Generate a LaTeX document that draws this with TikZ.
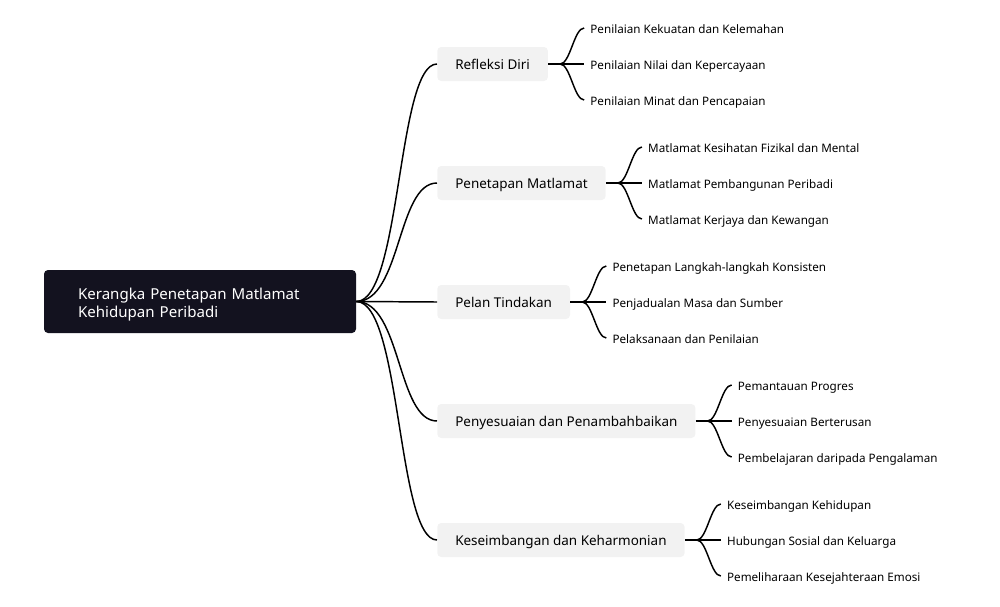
\documentclass[tikz,border=0pt]{standalone}
\usepackage{fontspec}
\setmainfont{Noto Sans}
\usetikzlibrary{positioning}
\definecolor{rootfill}{HTML}{13121F}
\definecolor{branchfill}{HTML}{F2F2F2}

\begin{document}
\begin{tikzpicture}[
		x=0.75pt, y=-0.75pt,
		rootbox/.style={rectangle, rounded corners=3pt, fill=rootfill, text=white, align=left, text width=183pt, inner xsep=25.5pt, minimum height=47.25pt, font=\fontsize{11.3}{14}\selectfont},
		branchbox/.style={rectangle, rounded corners=3pt, fill=branchfill, inner xsep=13.5pt, text height=10.5pt, text depth=2.5pt, minimum height=25.5pt, anchor=west, font=\fontsize{10.1}{12}\selectfont},
		leaf/.style={inner xsep=4.5pt, inner ysep=2pt, text height=9.5pt, text depth=2pt, anchor=west, font=\fontsize{8.75}{10}\selectfont},
		link/.style={line width=1.1pt}
		]
		\useasboundingbox (0,0) rectangle (1000,607);
		
		\node (root) [rootbox] at (200,301.5) {\rule{0pt}{13pt}Kerangka Penetapan Matlamat\\Kehidupan Peribadi};
		
		\node (refl) [branchbox] at (437,64) {Refleksi Diri};
		\node (goal) [branchbox] at (437,183) {Penetapan Matlamat};
		\node (plan) [branchbox] at (437,302) {Pelan Tindakan};
		\node (adj) [branchbox] at (437,421) {Penyesuaian dan Penambahbaikan};
		\node (bal) [branchbox] at (437,540) {Keseimbangan dan Keharmonian};
		
		\draw[link] (root.east) .. controls +(45,0) and +(-40,0) .. (refl.west);
		\draw[link] (root.east) .. controls +(45,0) and +(-40,0) .. (goal.west);
		\draw[link] (root.east) -- (plan.west);
		\draw[link] (root.east) .. controls +(45,0) and +(-40,0) .. (adj.west);
		\draw[link] (root.east) .. controls +(45,0) and +(-40,0) .. (bal.west);
		
		% Refleksi Diri
		\node (refl2) [leaf, right=27pt of refl] {Penilaian Nilai dan Kepercayaan};
		\node (refl1) [leaf] at ([yshift=27pt]refl2.west) {Penilaian Kekuatan dan Kelemahan};
		\node (refl3) [leaf] at ([yshift=-27pt]refl2.west) {Penilaian Minat dan Pencapaian};
		\coordinate (jrefl) at ([xshift=9pt]refl.east);
		\draw[link] (refl.east) -- (jrefl) -- (refl2.west);
		\draw[link] (jrefl) .. controls +(10,0) and +(-10,0) .. (refl1.west);
		\draw[link] (jrefl) .. controls +(10,0) and +(-10,0) .. (refl3.west);
		
		% Penetapan Matlamat
		\node (goal2) [leaf, right=27pt of goal] {Matlamat Pembangunan Peribadi};
		\node (goal1) [leaf] at ([yshift=27pt]goal2.west) {Matlamat Kesihatan Fizikal dan Mental};
		\node (goal3) [leaf] at ([yshift=-27pt]goal2.west) {Matlamat Kerjaya dan Kewangan};
		\coordinate (jgoal) at ([xshift=9pt]goal.east);
		\draw[link] (goal.east) -- (jgoal) -- (goal2.west);
		\draw[link] (jgoal) .. controls +(10,0) and +(-10,0) .. (goal1.west);
		\draw[link] (jgoal) .. controls +(10,0) and +(-10,0) .. (goal3.west);
		
		% Pelan Tindakan
		\node (plan2) [leaf, right=27pt of plan] {Penjadualan Masa dan Sumber};
		\node (plan1) [leaf] at ([yshift=27pt]plan2.west) {Penetapan Langkah-langkah Konsisten};
		\node (plan3) [leaf] at ([yshift=-27pt]plan2.west) {Pelaksanaan dan Penilaian};
		\coordinate (jplan) at ([xshift=9pt]plan.east);
		\draw[link] (plan.east) -- (jplan) -- (plan2.west);
		\draw[link] (jplan) .. controls +(10,0) and +(-10,0) .. (plan1.west);
		\draw[link] (jplan) .. controls +(10,0) and +(-10,0) .. (plan3.west);
		
		% Penyesuaian dan Penambahbaikan
		\node (adj2) [leaf, right=27pt of adj] {Penyesuaian Berterusan};
		\node (adj1) [leaf] at ([yshift=27pt]adj2.west) {Pemantauan Progres};
		\node (adj3) [leaf] at ([yshift=-27pt]adj2.west) {Pembelajaran daripada Pengalaman};
		\coordinate (jadj) at ([xshift=9pt]adj.east);
		\draw[link] (adj.east) -- (jadj) -- (adj2.west);
		\draw[link] (jadj) .. controls +(10,0) and +(-10,0) .. (adj1.west);
		\draw[link] (jadj) .. controls +(10,0) and +(-10,0) .. (adj3.west);
		
		% Keseimbangan dan Keharmonian
		\node (bal2) [leaf, right=27pt of bal] {Hubungan Sosial dan Keluarga};
		\node (bal1) [leaf] at ([yshift=27pt]bal2.west) {Keseimbangan Kehidupan};
		\node (bal3) [leaf] at ([yshift=-27pt]bal2.west) {Pemeliharaan Kesejahteraan Emosi};
		\coordinate (jbal) at ([xshift=9pt]bal.east);
		\draw[link] (bal.east) -- (jbal) -- (bal2.west);
		\draw[link] (jbal) .. controls +(10,0) and +(-10,0) .. (bal1.west);
		\draw[link] (jbal) .. controls +(10,0) and +(-10,0) .. (bal3.west);
	\end{tikzpicture}
\end{document}
